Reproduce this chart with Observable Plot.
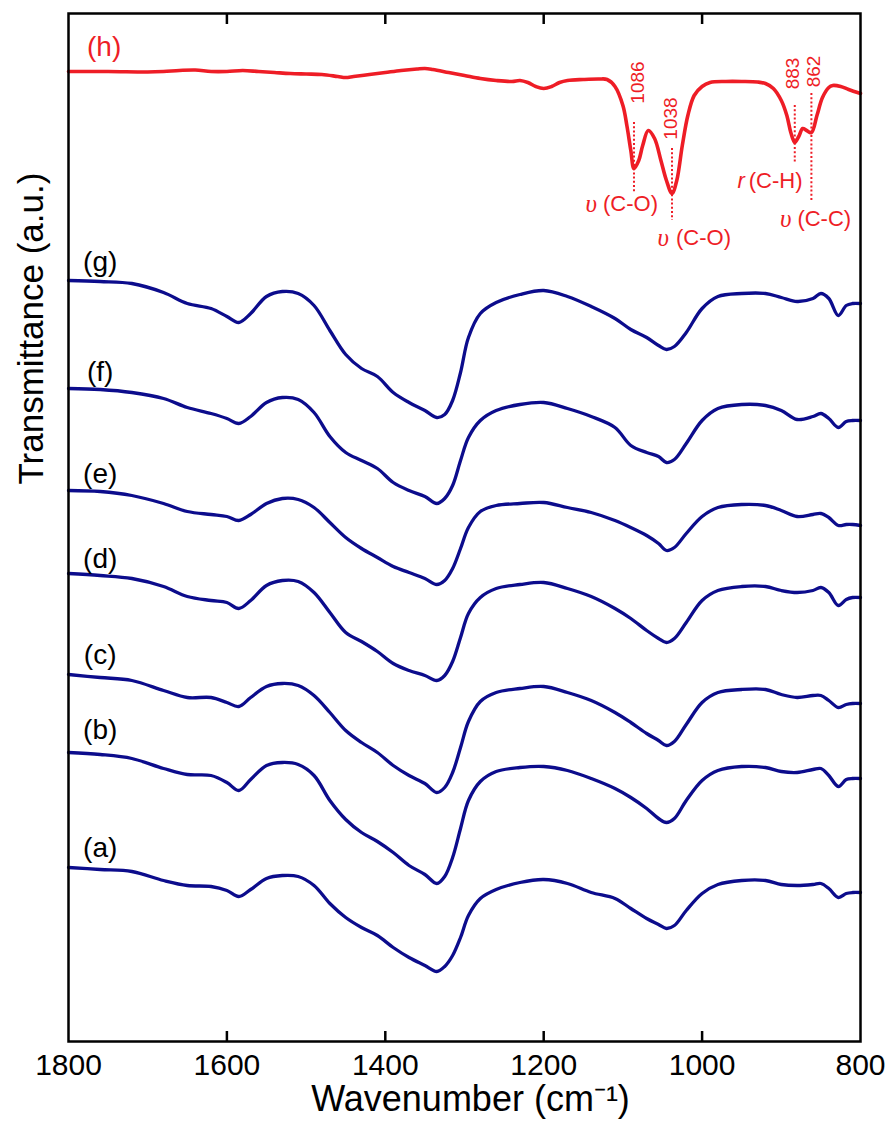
<!DOCTYPE html>
<html><head><meta charset="utf-8">
<script src="https://cdn.jsdelivr.net/npm/d3@7"></script>
<script src="https://cdn.jsdelivr.net/npm/@observablehq/plot@0.6"></script>
<style>
html,body{margin:0;padding:0;background:#fff;}
#chart svg{display:block;}
</style></head><body><div id="chart"></div>
<script>
// ---- data (vertical readings in a.u., larger = lower on the chart) ----
const wavenumber = [1800,1760,1720,1680,1650,1620,1600,1585,1570,1550,1530,1510,1490,1470,1450,1430,1410,1390,1370,1350,1335,1325,1315,1305,1295,1280,1260,1230,1200,1170,1140,1110,1090,1070,1055,1045,1035,1020,1000,980,950,920,900,880,860,850,840,828,818,810,800];
const specG = [280,281,283,292,303,308,316,322,313,296,291,293,305,330,354,368,376,392,402,410,417,414,400,372,337,313,302,294,290,296,306,318,329,337,345,349,346,332,308,296,293,293,297,301,298,293,298,315,305,303,303];
const specF = [388,389,392,398,407,413,418,423,416,402,397,399,412,436,452,460,468,482,490,496,503,498,485,460,437,420,410,404,402,408,416,427,445,452,456,462,459,443,420,408,404,405,410,419,416,413,418,427,421,420,420];
const specE = [490,491,495,503,511,514,516,520,514,503,498,499,507,522,537,548,557,566,572,578,584,580,568,548,527,511,505,503,502,507,512,520,527,535,543,550,547,533,516,507,504,505,510,516,514,513,517,525,524,524,525];
const specD = [573,575,578,586,596,600,602,608,600,585,580,581,592,612,632,641,651,663,670,675,680,675,661,637,613,597,588,584,582,588,596,608,618,630,638,642,638,622,600,590,586,586,590,592,590,587,592,605,599,597,597];
const specC = [674,677,680,690,697,697,702,706,697,686,683,685,695,712,730,742,752,765,775,783,792,787,772,747,721,701,692,688,686,692,700,712,722,733,740,745,741,724,702,692,689,689,694,697,695,695,700,707,704,703,703];
const specB = [752,754,758,768,774,775,782,790,779,765,762,764,775,800,819,832,841,852,865,874,883,876,857,828,800,781,771,767,766,770,778,788,797,808,818,822,818,800,780,770,766,767,771,772,769,768,775,786,779,778,778];
const specA = [867,869,871,880,885,886,890,896,889,878,875,876,885,903,917,927,935,947,957,965,971,966,955,937,915,898,889,882,879,883,892,898,908,918,924,928,925,910,893,884,880,880,884,885,884,883,888,897,893,892,892];
const blueNames = ["(a)","(b)","(c)","(d)","(e)","(f)","(g)"];
const blueSeries = [specA, specB, specC, specD, specE, specF, specG];
const blueLabelY = [848,730,655,559,474,372,262];

const redWn = [1800,1750,1700,1680,1660,1640,1620,1600,1580,1560,1540,1520,1500,1480,1460,1450,1440,1420,1400,1380,1360,1350,1340,1320,1300,1280,1260,1240,1230,1220,1210,1200,1190,1180,1170,1150,1130,1120,1110,1100,1095,1090,1086,1080,1075,1068,1060,1052,1045,1038,1032,1025,1018,1010,1000,990,970,950,930,920,910,900,893,888,883,878,873,868,862,855,848,840,835,825,815,800];
const specH = [71,71,71.5,71,70,69.5,71,71,70,71,72,73,73.5,74,76,77,76,74,72,70,68.5,68,69,72,75,78,80,81,80,82,86,88,86,82,80,79,78.5,79,86,105,125,150,168,160,145,130,138,160,180,193,180,145,115,95,86,82,81,81,81.5,83,88,100,115,132,142,136,128,130,132,115,97,87,85,86,89,93];

const peaks = [1086, 1038, 883, 862];
const peakLineTop = [122, 148, 105, 93];
const peakLineBottom = [192, 220, 163, 200];
const peakNumberY = [82, 118, 73, 71];
const peakSymbols = ["υ", "υ", "r", "υ"];
const peakModes = ["(C-O)", "(C-O)", "(C-H)", "(C-C)"];
const peakModeY = [203, 237, 180, 218];

const xTicks = [1800, 1600, 1400, 1200, 1000, 800];
const innerTicks = [1600, 1400, 1200, 1000];
const xTitle = "Wavenumber (cm⁻¹)";
const yTitle = "Transmittance (a.u.)";

// ---- styles / layout ----
const BLUE = "#0c0c8c", RED = "#ee1d26";
const FONT = "'Liberation Sans', Arial, Helvetica, sans-serif";
const numberDx = [4, -1, -2, 3];
const modeDx = [-31, 4, -46, -14];
const symbolDx = [-37, -3, -50, -20];
const symbolFont = ["'Liberation Serif', serif", "'Liberation Serif', serif", FONT, "'Liberation Serif', serif"];
const symbolSize = [25, 25, 22, 25];

const blueRows = [];
blueSeries.forEach((arr, k) => arr.forEach((v, i) => blueRows.push({w: wavenumber[i], v, s: blueNames[k]})));
const redRows = redWn.map((w, i) => ({w, v: specH[i]}));
const peakRows = peaks.map((w, i) => ({w, top: peakLineTop[i], bottom: peakLineBottom[i], ny: peakNumberY[i], sym: peakSymbols[i], mode: peakModes[i], my: peakModeY[i]}));
const labelRows = blueNames.map((n, i) => ({n, y: blueLabelY[i]}));

const marks = [
  Plot.line(blueRows, {x: "w", y: "v", z: "s", stroke: BLUE, strokeWidth: 3.3, curve: "catmull-rom"}),
  Plot.line(redRows, {x: "w", y: "v", stroke: RED, strokeWidth: 3.6, curve: "catmull-rom"}),
  Plot.ruleX(peakRows, {x: "w", y1: "top", y2: "bottom", stroke: RED, strokeWidth: 2, strokeDasharray: "2,2.2"}),
  Plot.text(labelRows, {x: 1760, y: "y", text: "n", fontSize: 28, fill: "black"}),
  Plot.text(["(h)"], {x: 1755, y: 47, text: d => d, fontSize: 28, fill: RED}),
  Plot.frame({stroke: "black", strokeWidth: 2.5}),
  Plot.axisX({anchor: "bottom", ticks: xTicks, tickSize: 0, tickPadding: 12, fontSize: 30, tickFormat: d => String(d), label: null}),
  Plot.axisX({anchor: "bottom", ticks: innerTicks, tickSize: 10, dy: -10, strokeWidth: 2.5, tickFormat: () => "", label: null}),
  Plot.axisX({anchor: "top", ticks: innerTicks, tickSize: 10, dy: 10, strokeWidth: 2.5, tickFormat: () => "", label: null}),
  Plot.text([xTitle], {frameAnchor: "bottom", text: d => d, dx: 6, dy: 58, fontSize: 36, lineAnchor: "middle", fill: "black"}),
  Plot.text([yTitle], {frameAnchor: "left", text: d => d, rotate: -90, dx: -37, dy: -43, fontSize: 35, lineAnchor: "middle", fill: "black"})
];
peakRows.forEach((p, i) => {
  marks.push(Plot.text([p], {x: "w", y: "ny", text: d => String(d.w), rotate: -90, dx: numberDx[i], fontSize: 19, fill: RED, lineAnchor: "middle"}));
  marks.push(Plot.text([p], {x: "w", y: "my", text: "mode", dx: modeDx[i], fontSize: 22, fill: RED, textAnchor: "start"}));
  marks.push(Plot.text([p], {x: "w", y: "my", text: "sym", dx: symbolDx[i], fontSize: symbolSize[i], fontFamily: symbolFont[i], fontStyle: "italic", fill: RED, textAnchor: "end"}));
});

const chart = Plot.plot({
  width: 886, height: 1122,
  marginLeft: 68, marginRight: 26, marginTop: 13, marginBottom: 81,
  style: {fontFamily: FONT, background: "#fff", color: "black"},
  x: {domain: [1800, 800], axis: null},
  y: {domain: [1041, 13], axis: null},
  marks
});
document.getElementById("chart").appendChild(chart);
</script>
</body></html>
